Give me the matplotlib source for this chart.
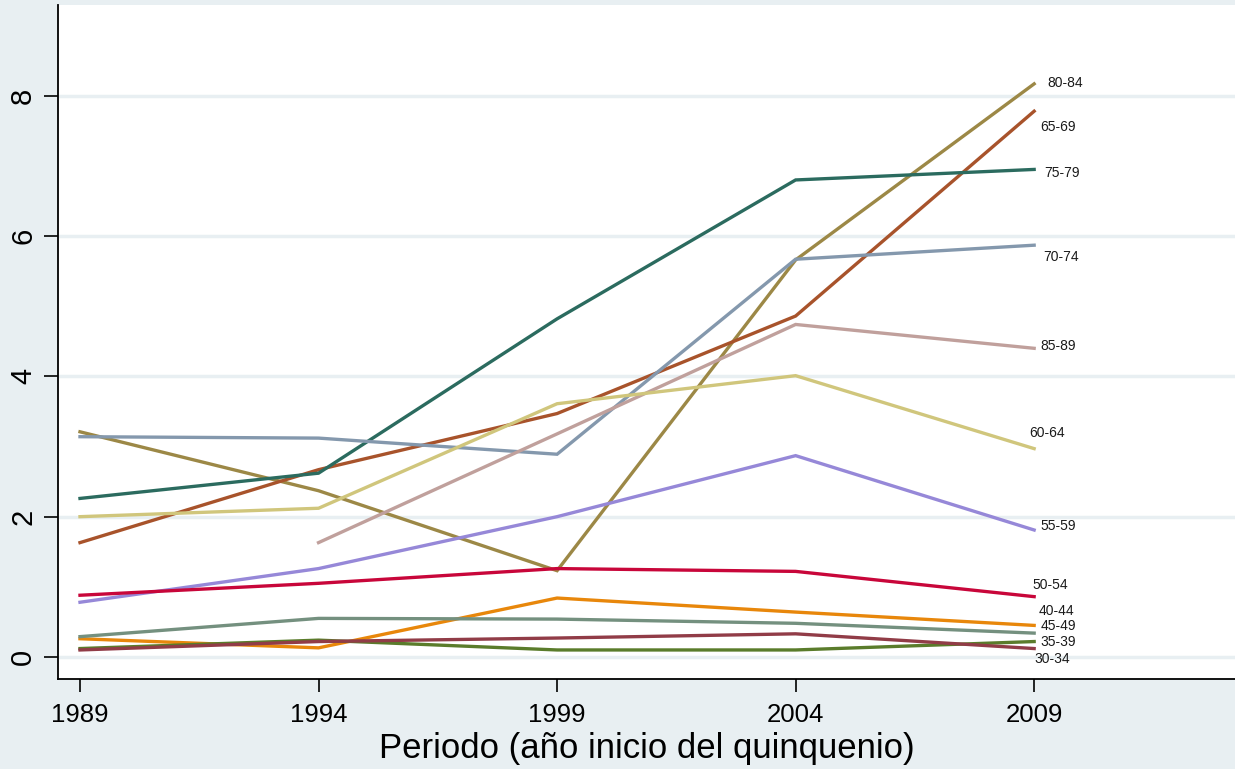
import matplotlib
matplotlib.use("Agg")
import matplotlib.pyplot as plt

years = [1989, 1994, 1999, 2004, 2009]

groups = ["80-84", "65-69", "75-79", "70-74", "85-89", "60-64",
          "55-59", "50-54", "40-44", "45-49", "35-39", "30-34"]

v_80_84 = [3.21, 2.37, 1.23, 5.66, 8.17]
v_65_69 = [1.63, 2.67, 3.47, 4.86, 7.78]
v_75_79 = [2.26, 2.62, 4.82, 6.80, 6.95]
v_70_74 = [3.14, 3.12, 2.89, 5.67, 5.87]
v_85_89 = [None, 1.63, 3.18, 4.74, 4.40]
v_60_64 = [2.00, 2.12, 3.61, 4.01, 2.97]
v_55_59 = [0.78, 1.26, 2.00, 2.87, 1.81]
v_50_54 = [0.88, 1.05, 1.26, 1.22, 0.86]
v_40_44 = [0.26, 0.13, 0.84, 0.64, 0.45]
v_45_49 = [0.29, 0.55, 0.54, 0.48, 0.34]
v_35_39 = [0.12, 0.24, 0.10, 0.10, 0.22]
v_30_34 = [0.10, 0.22, 0.27, 0.33, 0.12]

values = [v_80_84, v_65_69, v_75_79, v_70_74, v_85_89, v_60_64,
          v_55_59, v_50_54, v_40_44, v_45_49, v_35_39, v_30_34]

colors = ["#9c8846", "#a8532b", "#2b6b5f", "#8498ad", "#c0a09c", "#d0c67c",
          "#9688d8", "#c8063a", "#e8870b", "#74907f", "#5a7c2b", "#913c47"]

# label offsets in pixels (dx, dy) from last point
label_off = [(13, 1), (6, -16), (10, -4), (9, -12), (6, 2), (-5, 16),
             (6, 4), (-2, 12), (4, 14), (6, 7), (6, 0), (0, -10)]

fig = plt.figure(figsize=(12.35, 7.69), dpi=100)
bg = "#e8eff2"
fig.patch.set_facecolor(bg)
ax = fig.add_axes([58/1235, 90/769, (1235-58)/1235, (679-5)/769])
ax.set_facecolor("white")

ax.set_xlim(1988.539, 2013.21)
ax.set_ylim(-0.314, 9.294)

for yt in [0, 2, 4, 6, 8]:
    ax.axhline(yt, color=bg, lw=2.5, zorder=1)

for g, v, c, off in zip(groups, values, colors, label_off):
    xs = [x for x, y in zip(years, v) if y is not None]
    ys = [y for y in v if y is not None]
    ax.plot(xs, ys, color=c, lw=2.4, zorder=3, solid_joinstyle="miter")
    ax.annotate(g, xy=(xs[-1], ys[-1]), xytext=off, textcoords="offset pixels",
                ha="left", va="center", fontsize=10, family="Liberation Sans",
                color="#1a1a1a", zorder=4)

for s in ["top", "right"]:
    ax.spines[s].set_visible(False)
for s in ["left", "bottom"]:
    ax.spines[s].set_linewidth(1.3)
    ax.spines[s].set_color("black")

ax.set_xticks(years)
ax.set_xticklabels([str(y) for y in years], fontsize=18.5, family="Liberation Sans")
ax.set_yticks([0, 2, 4, 6, 8])
ax.set_yticklabels(["0", "2", "4", "6", "8"], fontsize=21, family="Liberation Sans",
                   rotation=90, va="center")
ax.tick_params(axis="x", length=9, width=1.2, pad=8)
ax.tick_params(axis="y", length=10, width=1.2, pad=5)
ax.set_xlabel("Periodo (año inicio del quinquenio)", fontsize=25,
              family="Liberation Sans", labelpad=4)

fig.savefig("out.png", dpi=100, facecolor=bg)
